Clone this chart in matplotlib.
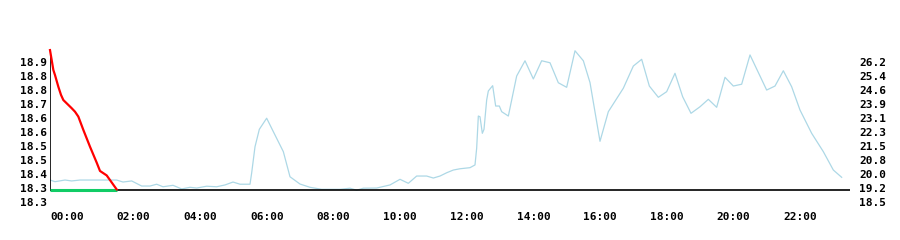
import numpy as np
import matplotlib
matplotlib.use('Agg')
from matplotlib import pyplot as plt

mpl = matplotlib
mpl.rcParams['font.family'] = 'DejaVu Sans Mono'
mpl.rcParams['font.weight'] = 'bold'
mpl.rcParams['font.size'] = 8

# left axis series (hours, value)
red_hours = [0.0, 0.05, 0.1, 0.15, 0.25, 0.33, 0.4, 0.55, 0.65, 0.75, 0.85, 1.0, 1.2,
             1.4, 1.5, 1.7, 1.8, 2.0]
red_vals = [18.931, 18.889, 18.846, 18.824, 18.774, 18.739, 18.717, 18.696, 18.682,
            18.667, 18.646, 18.589, 18.517, 18.449, 18.413, 18.394, 18.374, 18.334]

green_hours = [0.0, 2.0]
green_vals = [18.331, 18.331]

# right axis series
blue_hours = [0.0, 0.15, 0.45, 0.65, 0.9, 2.0, 2.19, 2.45, 2.75, 3.0, 3.2, 3.39, 3.69,
              3.95, 4.2, 4.4, 4.7, 5.0, 5.25, 5.49, 5.7, 6.0, 6.05, 6.15, 6.28, 6.5,
              6.7, 7.0, 7.2, 7.5, 7.8, 8.15, 8.7, 9.0, 9.2, 9.4, 9.8, 10.2, 10.5,
              10.75, 11.0, 11.3, 11.5, 11.7, 11.9, 12.1, 12.3, 12.6, 12.75, 12.8,
              12.85, 12.9, 12.97, 13.02, 13.1, 13.15, 13.28, 13.37, 13.48, 13.55,
              13.75, 14.0, 14.25, 14.5, 14.75, 15.0, 15.25, 15.5, 15.75, 16.0, 16.2,
              16.5, 16.75, 17.2, 17.5, 17.75, 17.98, 18.25, 18.5, 18.75, 18.98,
              19.23, 19.5, 19.75, 20.0, 20.25, 20.5, 20.75, 21.0, 21.5, 21.75, 22.0,
              22.25, 22.5, 22.85, 23.2, 23.5, 23.75]
blue_vals = [19.67, 19.58, 19.67, 19.62, 19.67, 19.67, 19.56, 19.62, 19.34, 19.34, 19.44,
             19.30, 19.38, 19.18, 19.27, 19.23, 19.33, 19.30, 19.40, 19.56, 19.44, 19.44,
             20.06, 21.50, 22.46, 23.07, 22.33, 21.23, 19.85, 19.45, 19.27, 19.16, 19.16,
             19.22, 19.11, 19.22, 19.23, 19.40, 19.71, 19.49, 19.89, 19.89, 19.78, 19.89,
             20.07, 20.22, 20.29, 20.35, 20.50, 21.42, 23.19, 23.15, 22.24, 22.46, 24.07,
             24.57, 24.86, 23.74, 23.74, 23.43, 23.19, 25.39, 26.23, 25.23, 26.23, 26.12,
             25.02, 24.77, 26.78, 26.23, 25.03, 21.80, 23.43, 24.72, 25.94, 26.31, 24.84,
             24.22, 24.53, 25.54, 24.25, 23.34, 23.70, 24.11, 23.67, 25.32, 24.84, 24.94,
             26.55, 24.62, 24.84, 25.68, 24.80, 23.52, 22.24, 21.23, 20.22, 19.82]

left_ticks = [18.28 + 0.06 * k for k in range(11)]
right_ticks = [18.462 + 0.77 * k for k in range(11)]
x_ticks = list(range(0, 24, 2))
x_labels = ['{:02d}:00'.format(h) for h in x_ticks]

base_left = 18.331

fig = plt.figure(figsize=(9, 2.4), dpi=100)
ax = fig.add_axes([50 / 900, 38 / 240, 800 / 900, 152 / 240])
ax2 = ax.twinx()

ax.set_xlim(0, 24)
ax.set_ylim(18.28, 18.28 + 152 * 0.06 / 14)
ax2.set_ylim(18.462, 18.462 + 152 * 0.77 / 14)

for a in (ax, ax2):
    for sp in a.spines.values():
        sp.set_visible(False)

ax2.plot(blue_hours, blue_vals, color='#add8e6', lw=0.9, zorder=2)
ax.plot(green_hours, green_vals, color='#11cc66', lw=2.2, zorder=4, solid_capstyle='butt')
ax.plot(red_hours, red_vals, color='#ff0000', lw=1.6, zorder=5, clip_on=False)

ax.axhline(base_left, color='black', lw=1.2, zorder=3)
ax.plot([0, 0], [base_left, 18.91], color='black', lw=1.2, zorder=3)
ax.set_zorder(ax2.get_zorder() + 1)
ax.patch.set_visible(False)

ax.set_yticks(left_ticks)
ax.set_yticklabels(['{:.1f}'.format(v) for v in left_ticks])
ax2.set_yticks(right_ticks)
ax2.set_yticklabels(['{:.1f}'.format(v) for v in right_ticks])
ax.tick_params(axis='y', length=0, pad=2)
ax2.tick_params(axis='y', length=0, pad=6.5)

ax.set_xticks(x_ticks)
ax.set_xticklabels(x_labels, ha='left')
ax.tick_params(axis='x', length=0, pad=7)

fig.savefig('out.png', dpi=100)
